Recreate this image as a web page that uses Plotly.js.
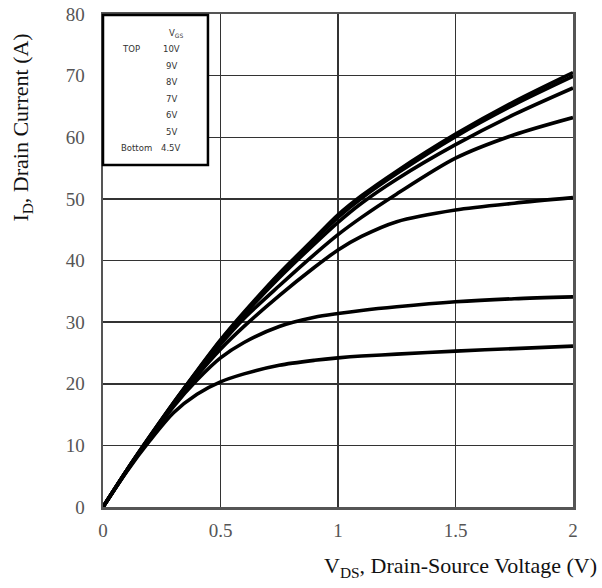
<!DOCTYPE html>
<html>
<head>
<meta charset="utf-8">
<script src="https://cdn.plot.ly/plotly-3.0.1.min.js"></script>
<style>body{margin:0;padding:0;background:#fff;} #chart{width:602px;height:588px;}</style>
</head>
<body>
<div id="chart"></div>
<script>
// Drain-source voltage sample points (V)
var vds = [0, 0.1, 0.2, 0.3, 0.4, 0.5, 0.6, 0.75, 0.9, 1.0, 1.1, 1.25, 1.5, 1.75, 2.0];

// Drain current (A) for each gate voltage
var id10V  = [0, 5.9, 11.5, 16.9, 22.1, 27.1, 31.6, 37.9, 43.6, 47.4, 50.5, 54.5, 60.5, 65.8, 70.5];
var id9V   = [0, 5.9, 11.5, 16.9, 22.0, 27.0, 31.4, 37.6, 43.3, 47.0, 50.1, 54.1, 60.1, 65.3, 69.9];
var id8V   = [0, 5.9, 11.4, 16.8, 21.9, 26.8, 31.2, 37.2, 42.7, 46.2, 49.3, 53.2, 58.8, 63.7, 68.0];
var id7V   = [0, 5.9, 11.4, 16.7, 21.7, 26.4, 30.6, 35.9, 41.0, 44.2, 47.0, 50.8, 56.6, 60.4, 63.2];
var id6V   = [0, 5.8, 11.3, 16.5, 21.3, 25.6, 29.3, 34.3, 38.9, 41.7, 43.9, 46.3, 48.2, 49.3, 50.2];
var id5V   = [0, 5.8, 11.2, 16.3, 20.6, 24.2, 26.7, 29.3, 30.8, 31.4, 31.9, 32.5, 33.3, 33.8, 34.1];
var id45V  = [0, 5.7, 10.8, 15.3, 18.3, 20.3, 21.6, 23.0, 23.8, 24.2, 24.5, 24.8, 25.3, 25.7, 26.1];

var seriesNames = ["10V", "9V", "8V", "7V", "6V", "5V", "4.5V"];
var seriesData = [id10V, id9V, id8V, id7V, id6V, id5V, id45V];

var xTicks = [0, 0.5, 1, 1.5, 2];
var xTickText = ["0", "0.5", "1", "1.5", "2"];
var yTicks = [0, 10, 20, 30, 40, 50, 60, 70, 80];

var legendTopLabel = "TOP";
var legendBottomLabel = "Bottom";

var traces = seriesData.map(function (d, i) {
  return {
    x: vds, y: d, type: "scatter", mode: "lines", name: seriesNames[i],
    line: {color: "#000", width: 3.6, shape: "spline", smoothing: 0.8},
    hoverinfo: "x+y+name"
  };
});

// pixel -> paper helpers (plot area l=102.5, r=572.7, t=14, b=506.7)
var L = 102.5, R = 572.7, T = 14, B = 506.7;
function px(x) { return (x - L) / (R - L); }
function py(y) { return (B - y) / (B - T); }

var legFont = {family: "DejaVu Sans", size: 8.5, color: "#333"};
var annotations = [];
annotations.push({xref: "paper", yref: "paper", x: px(176), y: py(33), xanchor: "center", yanchor: "middle",
  text: "V<sub>GS</sub>", showarrow: false, font: legFont});
for (var i = 0; i < seriesNames.length; i++) {
  var yy = 49 + i * 16.5;
  annotations.push({xref: "paper", yref: "paper", x: px(171), y: py(yy), xanchor: "center", yanchor: "middle",
    text: seriesNames[i], showarrow: false, font: legFont});
}
annotations.push({xref: "paper", yref: "paper", x: px(131), y: py(49), xanchor: "center", yanchor: "middle",
  text: legendTopLabel, showarrow: false, font: legFont});
annotations.push({xref: "paper", yref: "paper", x: px(136), y: py(49 + 6 * 16.5), xanchor: "center", yanchor: "middle",
  text: legendBottomLabel, showarrow: false, font: legFont});

annotations.push({xref: "paper", yref: "paper", x: px(22), y: py(128), xanchor: "center", yanchor: "middle",
  textangle: -90, text: "I<sub>D</sub>, Drain Current (A)", showarrow: false,
  font: {family: "Liberation Serif", size: 22, color: "#111"}});
annotations.push({xref: "paper", yref: "paper", x: px(599), y: py(567), xanchor: "right", yanchor: "middle",
  text: "V<sub>DS</sub>, Drain-Source Voltage (V)", showarrow: false,
  font: {family: "Liberation Serif", size: 22, color: "#111"}});

var layout = {
  width: 602, height: 588,
  margin: {l: 102.5, r: 29.3, t: 14, b: 81.3, pad: 0},
  paper_bgcolor: "#fff", plot_bgcolor: "#fff",
  showlegend: false,
  xaxis: {
    range: [0, 2], tickvals: xTicks, ticktext: xTickText,
    showgrid: true, gridcolor: "#333", gridwidth: 1.5,
    zeroline: false, showline: true, linecolor: "#555", linewidth: 2.5, mirror: true,
    ticks: "", ticklabelstandoff: 5,
    tickfont: {family: "Liberation Serif", size: 19, color: "#555"}
  },
  yaxis: {
    range: [0, 80], tickvals: yTicks,
    showgrid: true, gridcolor: "#333", gridwidth: 1.5,
    zeroline: false, showline: true, linecolor: "#555", linewidth: 2.5, mirror: true,
    ticks: "", ticklabelstandoff: 12,
    tickfont: {family: "Liberation Serif", size: 19, color: "#555"}
  },
  shapes: [
    {type: "rect", xref: "paper", yref: "paper", x0: px(102.5), x1: px(207.5), y0: py(15), y1: py(165),
     fillcolor: "#fff", line: {color: "#000", width: 2.5}, layer: "above"}
  ],
  annotations: annotations
};

Plotly.newPlot("chart", traces, layout, {staticPlot: true});
</script>
</body>
</html>
